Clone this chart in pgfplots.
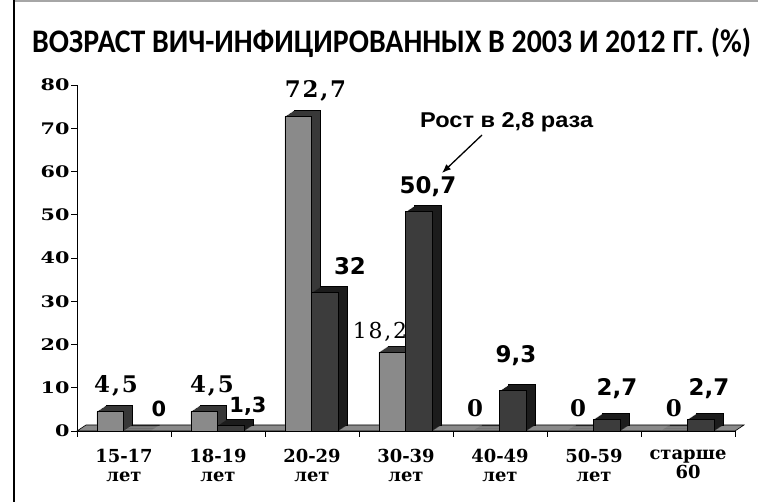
\documentclass[border=0pt]{standalone}
\usepackage{pgfplots}
\pgfplotsset{compat=1.18}
\usepackage{pgfplotstable}
\usetikzlibrary{arrows.meta}
\usepackage{fontspec}
\setmainfont{DejaVu Serif}
\newfontfamily\titlefont{Carlito}
\newfontfamily\sansb{DejaVu Sans}
\newfontfamily\serifl{DejaVu Serif}[LetterSpace=8]
\newfontfamily\annfont{Liberation Sans}[FakeStretch=1.1]
\newfontfamily\ytfont{DejaVu Serif}[FakeStretch=1.3]
\newfontfamily\xtfont{DejaVu Serif}

\definecolor{lightbar}{HTML}{8A8A8A}
\definecolor{lightside}{HTML}{383838}
\definecolor{darkbar}{HTML}{3C3C3C}
\definecolor{darkside}{HTML}{1C1C1C}
\definecolor{floorc}{HTML}{8A8A8A}

\pgfplotstableread{
x y
0 4.5
1 4.5
2 72.7
3 18.2
4 0
5 0
6 0
}\dataA
\pgfplotstableread{
x y
0 0
1 1.3
2 32
3 50.7
4 9.3
5 2.7
6 2.7
}\dataB

\begin{document}
\begin{tikzpicture}
\useasboundingbox (0,0) rectangle (758bp,502bp);
\draw[line width=2bp, gray!70] (14bp,501bp) -- (758bp,501bp);
\draw[line width=2bp, black] (14bp,0) -- (14bp,502bp);
\node[anchor=base west, inner sep=0pt, font=\titlefont\bfseries\fontsize{33}{33}\selectfont] at (32bp,449bp) {\resizebox{719bp}{\height}{ВОЗРАСТ ВИЧ-ИНФИЦИРОВАННЫХ В 2003 И 2012 ГГ. (\%)}};
\begin{axis}[
  at={(77bp,71bp)}, anchor=south west,
  width=658bp, height=346bp, scale only axis,
  xmin=-0.5, xmax=6.5, ymin=0, ymax=80,
  axis lines=left, axis line style={-, line width=0.8bp},
  clip=false,
  xtick={-0.5,0.5,1.5,2.5,3.5,4.5,5.5,6.5},
  xticklabels={},
  extra x ticks={0,1,2,3,4,5,6},
  extra x tick labels={{15-17\\лет},{18-19\\лет},{20-29\\лет},{30-39\\лет},{40-49\\лет},{50-59\\лет},{старше\\60}},
  extra x tick style={major tick length=0pt},
  ytick={0,10,20,30,40,50,60,70,80},
  /pgf/number format/assume math mode=true,
  tick align=outside, major tick length=6bp,
  tick style={black, line width=0.8bp},
  xticklabel style={font=\xtfont\bfseries\fontsize{18}{19}\selectfont, align=center, yshift=-15bp},
  yticklabel style={font=\ytfont\bfseries\fontsize{16}{16}\selectfont, xshift=2bp},
]
\fill[floorc, draw=black, line width=0.6bp] (axis cs:-0.5,0) -- (axis cs:6.5,0) -- ([shift={(9bp,6bp)}]axis cs:6.5,0) -- ([shift={(9bp,6bp)}]axis cs:-0.5,0) -- cycle;
% 2003 series: depth then front
\addplot[ybar, bar width=0.285, bar shift=-0.145, fill=lightside, draw=black, line width=0.6bp, xshift=9bp, yshift=6bp] table {\dataA};
\pgfplotsinvokeforeach{8,7,6,5,4,3,2,1}{
\addplot[ybar, bar width=0.285, bar shift=-0.145, fill=lightside, draw=none, xshift=#1bp, yshift=#1*0.667bp] table {\dataA};
}
\addplot[ybar, bar width=0.285, bar shift=-0.145, fill=lightbar, draw=black, line width=0.6bp] table {\dataA};
% 2012 series
\addplot[ybar, bar width=0.285, bar shift=0.14, fill=darkside, draw=black, line width=0.6bp, xshift=9bp, yshift=6bp] table {\dataB};
\pgfplotsinvokeforeach{8,7,6,5,4,3,2,1}{
\addplot[ybar, bar width=0.285, bar shift=0.14, fill=darkside, draw=none, xshift=#1bp, yshift=#1*0.667bp] table {\dataB};
}
\addplot[ybar, bar width=0.285, bar shift=0.14, fill=darkbar, draw=black, line width=0.6bp] table {\dataB};
% value labels
\begin{scope}[every node/.style={anchor=base, inner sep=0pt}]
\node[font=\serifl\bfseries\fontsize{23}{23}\selectfont] at (axis cs:-0.085,9.0) {4,5};
\node[font=\sansb\bfseries\fontsize{21}{21}\selectfont] at (axis cs:0.372,3.24) {0};
\node[font=\serifl\bfseries\fontsize{23}{23}\selectfont] at (axis cs:0.936,9.0) {4,5};
\node[font=\sansb\bfseries\fontsize{21}{21}\selectfont] at (axis cs:1.319,4.3) {1,3};
\node[font=\serifl\bfseries\fontsize{23}{23}\selectfont] at (axis cs:2.037,77.2) {72,7};
\node[font=\sansb\bfseries\fontsize{23}{23}\selectfont] at (axis cs:2.404,36.07) {32};
\node[font=\serifl\fontsize{22}{22}\selectfont] at (axis cs:2.723,21.5) {18,2};
\node[font=\sansb\bfseries\fontsize{23}{23}\selectfont] at (axis cs:3.234,54.8) {50,7};
\node[font=\serifl\bfseries\fontsize{23}{23}\selectfont] at (axis cs:3.734,3.24) {0};
\node[font=\sansb\bfseries\fontsize{23}{23}\selectfont] at (axis cs:4.17,15.95) {9,3};
\node[font=\serifl\bfseries\fontsize{23}{23}\selectfont] at (axis cs:4.83,3.24) {0};
\node[font=\sansb\bfseries\fontsize{23}{23}\selectfont] at (axis cs:5.245,8.32) {2,7};
\node[font=\serifl\bfseries\fontsize{23}{23}\selectfont] at (axis cs:5.85,3.24) {0};
\node[font=\sansb\bfseries\fontsize{23}{23}\selectfont] at (axis cs:6.223,8.32) {2,7};
\end{scope}
\end{axis}
\node[anchor=base west, inner sep=0pt, font=\annfont\bfseries\fontsize{21.5}{21.5}\selectfont] at (420bp,374bp) {Рост в 2,8 раза};
\draw[-{Latex[length=9bp,width=7bp]}, line width=1.3bp] (482bp,367bp) -- (442bp,329bp);
\end{tikzpicture}
\end{document}
